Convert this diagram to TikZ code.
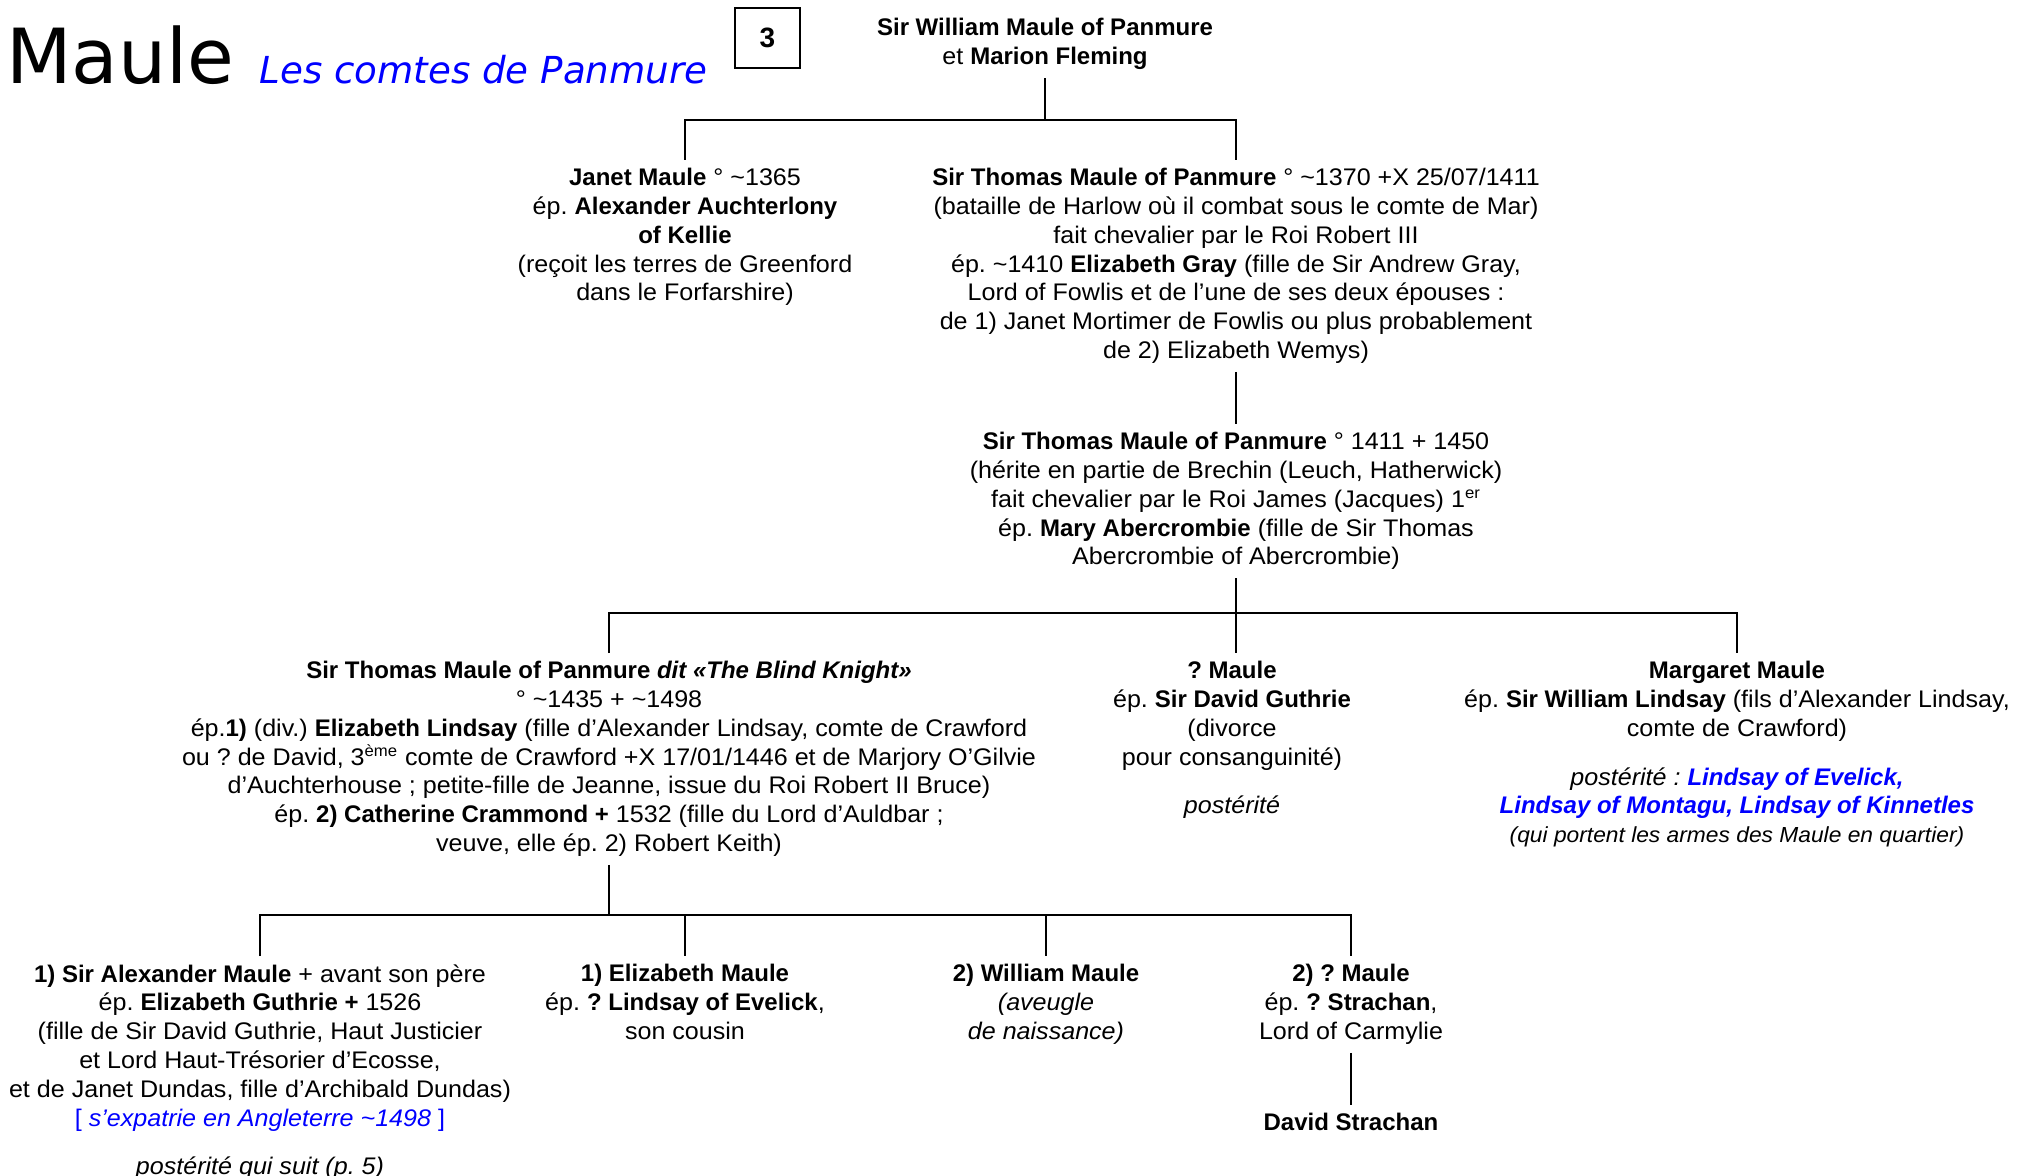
\documentclass[tikz,border=0pt]{standalone}
\usepackage{fontspec}
\setmainfont{Liberation Sans}[
  UprightFeatures={FakeStretch=1.045},
  ItalicFeatures={FakeStretch=1.045}]
\newfontfamily\titlefont{DejaVu Sans}
\definecolor{pureblue}{RGB}{0,0,255}
\newcommand\tld{\textasciitilde}
\frenchspacing
\begin{document}
\begin{tikzpicture}[x=0.5pt,y=-0.5pt,
  person/.style={align=center, anchor=north, inner xsep=2pt, inner ysep=4pt,
    font=\fontsize{12}{14.4}\selectfont\frenchspacing},
  link/.style={line width=1.2pt}]
\useasboundingbox (0,0) rectangle (2023,1176);

% heading
\node[anchor=base west, inner sep=0, font=\titlefont\fontsize{38}{40}\selectfont] (title) at (6,84) {Maule};
\node[anchor=base west, inner sep=0, font=\titlefont\itshape\fontsize{18.6}{20}\selectfont, text=pureblue] (subtitle) at (259,84) {Les comtes de Panmure};
\node[draw, line width=1.2pt, minimum width=32.5pt, minimum height=30pt, inner sep=0,
  font=\bfseries\fontsize{14}{16}\selectfont] (page) at (767.5,38) {3};

% generation 1
\node[person] (root) at (1045,10) {\textbf{Sir William Maule of Panmure}\\et \textbf{Marion Fleming}};

% generation 2
\node[person] (janet) at (685,160) {\textbf{Janet Maule} ° \tld1365\\ép. \textbf{Alexander Auchterlony}\\\textbf{of Kellie}\\(reçoit les terres de Greenford\\dans le Forfarshire)};
\node[person] (thomas1) at (1236,160) {\textbf{Sir Thomas Maule of Panmure} ° \tld1370 +X 25/07/1411\\(bataille de Harlow où il combat sous le comte de Mar)\\fait chevalier par le Roi Robert III\\ép. \tld1410 \textbf{Elizabeth Gray} (fille de Sir Andrew Gray,\\Lord of Fowlis et de l’une de ses deux épouses :\\de 1) Janet Mortimer de Fowlis ou plus probablement\\de 2) Elizabeth Wemys)};

% generation 3
\node[person] (thomas2) at (1236,424) {\textbf{Sir Thomas Maule of Panmure} ° 1411 + 1450\\(hérite en partie de Brechin (Leuch, Hatherwick)\\fait chevalier par le Roi James (Jacques) 1\textsuperscript{er}\\ép. \textbf{Mary Abercrombie} (fille de Sir Thomas\\Abercrombie of Abercrombie)};

% generation 4
\node[person] (thomas3) at (609,653) {\textbf{Sir Thomas Maule of Panmure \textit{dit «The Blind Knight»}}\\° \tld1435 + \tld1498\\ép.\textbf{1)} (div.) \textbf{Elizabeth Lindsay} (fille d’Alexander Lindsay, comte de Crawford\\ou ? de David, 3\textsuperscript{ème} comte de Crawford +X 17/01/1446 et de Marjory O’Gilvie\\d’Auchterhouse ; petite-fille de Jeanne, issue du Roi Robert II Bruce)\\ép. \textbf{2) Catherine Crammond +} 1532 (fille du Lord d’Auldbar ;\\veuve, elle ép. 2) Robert Keith)};
\node[person] (qmaule) at (1232,653) {\textbf{? Maule}\\ép. \textbf{Sir David Guthrie}\\(divorce\\pour consanguinité)\\[10pt]\textit{postérité}};
\node[person] (margaret) at (1737,653) {\textbf{Margaret Maule}\\ép. \textbf{Sir William Lindsay} (fils d’Alexander Lindsay,\\comte de Crawford)\\[10pt]\textit{postérité : \textcolor{pureblue}{\textbf{Lindsay of Evelick,}}}\\\textcolor{pureblue}{\textbf{\textit{Lindsay of Montagu, Lindsay of Kinnetles}}}\\{\fontsize{10.9}{12.6}\selectfont\itshape (qui portent les armes des Maule en quartier)}};

% generation 5
\node[person] (alex) at (260,956) {\textbf{1) Sir Alexander Maule} + avant son père\\ép. \textbf{Elizabeth Guthrie +} 1526\\(fille de Sir David Guthrie, Haut Justicier\\et Lord Haut-Trésorier d’Ecosse,\\et de Janet Dundas, fille d’Archibald Dundas)\\\textcolor{pureblue}{[ \textit{s’expatrie en Angleterre \tld1498} ]}\\[10pt]\textit{postérité qui suit (p. 5)}};
\node[person] (eliz) at (685,956) {\textbf{1) Elizabeth Maule}\\ép. \textbf{? Lindsay of Evelick},\\son cousin};
\node[person] (will) at (1046,956) {\textbf{2) William Maule}\\\textit{(aveugle}\\\textit{de naissance)}};
\node[person] (qm2) at (1351,956) {\textbf{2) ? Maule}\\ép. \textbf{? Strachan},\\Lord of Carmylie};
\node[person] (david) at (1351,1105) {\textbf{David Strachan}};

% descent lines
\coordinate (j1) at (1045,120);
\draw[link] (root.south) -- (j1);
\draw[link] (janet.north) |- (j1) -| (thomas1.north);
\draw[link] (thomas1.south) -- (thomas2.north);

\coordinate (j2) at (1236,613);
\draw[link] (thomas2.south) -- (j2);
\draw[link] (thomas3.north) |- (j2) -| (margaret.north);
\draw[link] (j2) -- (j2 |- qmaule.north);

\coordinate (j3) at (609,915);
\draw[link] (thomas3.south) -- (j3);
\draw[link] (alex.north) |- (j3) -| (qm2.north);
\draw[link] (eliz.north |- j3) -- (eliz.north);
\draw[link] (will.north |- j3) -- (will.north);
\draw[link] (qm2.south) -- (david.north);
\end{tikzpicture}
\end{document}
